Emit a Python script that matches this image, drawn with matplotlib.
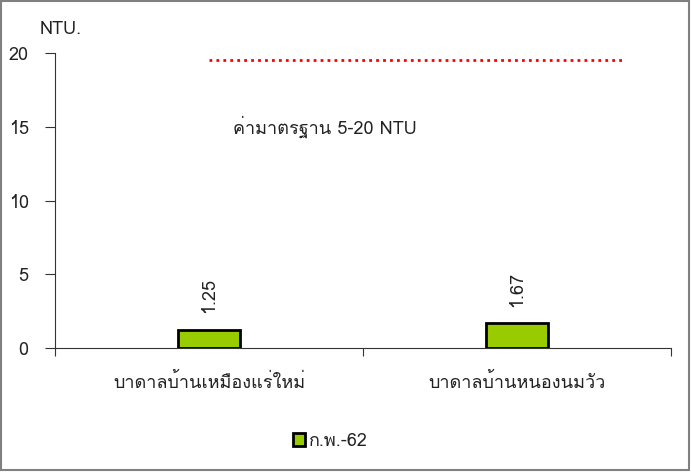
import matplotlib
matplotlib.use("Agg")
import matplotlib.pyplot as plt
from matplotlib import font_manager
from matplotlib.ft2font import FT2Font

# find an installed font that has Thai glyphs
thai_font = None
for f in font_manager.fontManager.ttflist:
    try:
        ft = FT2Font(f.fname)
        if ft.get_char_index(ord("ก")) and ft.get_char_index(ord("A")):
            thai_font = f.name
            break
    except Exception:
        pass

families = [thai_font, "DejaVu Sans"] if thai_font else ["DejaVu Sans"]
plt.rcParams["font.family"] = families
plt.rcParams["text.color"] = "#222222"

categories = ["บาดาลบ้านเหมืองแร่ใหม่", "บาดาลบ้านหนองนมวัว"]
values = [1.25, 1.67]
series_name = "ก.พ.-62"
standard = 19.5
standard_label = "ค่ามาตรฐาน 5-20 NTU"

fig = plt.figure(figsize=(6.91, 4.72), dpi=100)
ax = fig.add_axes([0.0796, 0.2627, 0.8915, 0.625])

x = range(len(categories))
ax.bar(x, values, width=0.2, color="#99cc00", edgecolor="black", linewidth=2,
       label=series_name, zorder=3)
for xi, v in zip(x, values):
    ax.text(xi, v + 1.1, f"{v:.2f}", rotation=90, ha="center", va="bottom", fontsize=13)

ax.hlines(standard, 0, 1.345, colors="red", linestyles=(0, (1, 1.5)), linewidth=2)
ax.text(0.377, 15.0, standard_label, ha="center", va="center", fontsize=13)

ax.set_xlim(-0.5, 1.5)
ax.set_ylim(0, 20)
ax.set_yticks([0, 5, 10, 15, 20])
ax.set_xticks([-0.5, 0.5, 1.5])
ax.set_xticklabels([])
ax.set_xticks([0, 1], minor=True)
ax.set_xticklabels(categories, minor=True, fontsize=13, color="#222222")
ax.tick_params(axis="x", which="minor", length=0, pad=18)
ax.tick_params(axis="x", which="major", length=6, direction="out", color="#333333")
ax.tick_params(axis="y", length=7, direction="out", labelsize=13, pad=12, color="#333333",
               labelcolor="#222222")
for s in ["top", "right"]:
    ax.spines[s].set_visible(False)
for s in ["left", "bottom"]:
    ax.spines[s].set_color("#333333")

ax.text(-0.025, 1.05, "NTU.", transform=ax.transAxes, ha="left", va="bottom", fontsize=13)

leg = fig.legend(loc="center", bbox_to_anchor=(0.478, 0.066), frameon=False, fontsize=13,
                 handlelength=0.7, handleheight=0.7, handletextpad=0.2)

fig.patches.append(plt.Rectangle((0.002, 0.004), 0.995, 0.993, transform=fig.transFigure,
                                 fill=False, edgecolor="#808080", linewidth=1.5))

fig.savefig("out.png", dpi=100)
